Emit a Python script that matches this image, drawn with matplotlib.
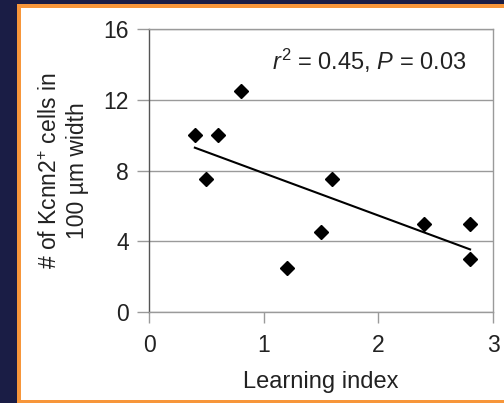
import numpy as np
import matplotlib
matplotlib.use('Agg')
import matplotlib.pyplot as plt
from matplotlib.patches import Rectangle

plt.rcParams['font.family'] = ['Liberation Sans', 'DejaVu Sans']
plt.rcParams['mathtext.fontset'] = 'custom'
plt.rcParams['mathtext.rm'] = 'Liberation Sans'
plt.rcParams['mathtext.it'] = 'Liberation Sans:italic'

# data
learning_index = [0.4, 0.5, 0.6, 0.8, 1.2, 1.5, 1.6, 2.4, 2.8, 2.8]
kcnn2_cells = [10, 7.5, 10, 12.5, 2.5, 4.5, 7.5, 5, 5, 3]
x_ticks = [0, 1, 2, 3]
y_ticks = [0, 4, 8, 12, 16]

navy = '#1a1d45'
orange = '#f7963a'
grey = '#9a9a9a'
txt = '#222222'

fig = plt.figure(figsize=(5.04, 4.03), dpi=100, facecolor=navy)
W, H = 504, 403
# orange frame and white panel, kept behind the axes
fig.patches.append(Rectangle((17 / W, 0), 1, 1 - 4 / H, transform=fig.transFigure,
                             facecolor=orange, edgecolor='none', zorder=-2))
fig.patches.append(Rectangle((21 / W, 3 / H), 1, 1 - 11 / H, transform=fig.transFigure,
                             facecolor='white', edgecolor='none', zorder=-1))

ax = fig.add_axes([149 / W, 1 - 312 / H, 344 / W, 283 / H])
ax.set_facecolor('none')

ax.set_xlim(0, 3)
ax.set_ylim(0, 16)
ax.set_xticks(x_ticks)
ax.set_yticks(y_ticks)

ax.yaxis.grid(True, color=grey, lw=1.0)
for s in ['top', 'right', 'bottom']:
    ax.spines[s].set_color(grey)
    ax.spines[s].set_linewidth(1.0)
ax.spines['left'].set_color('#555555')
ax.spines['left'].set_linewidth(1.0)
ax.tick_params(axis='y', length=8.5, width=1.0, color=grey, pad=6, labelsize=16.5, labelcolor=txt)
ax.tick_params(axis='x', length=8, width=1.0, color=grey, pad=8, labelsize=16.5, labelcolor=txt)

ax.plot(learning_index, kcnn2_cells, linestyle='none', marker='D', markersize=7.5,
        color='black', zorder=5, clip_on=False)

# least squares line
slope, icpt = np.polyfit(learning_index, kcnn2_cells, 1)
xs = np.array([min(learning_index), max(learning_index)])
ax.plot(xs, slope * xs + icpt, color='black', lw=1.5, zorder=4)

ax.text(2.77, 14.2, r'$r^2$ = 0.45, $P$ = 0.03', ha='right', va='center',
        fontsize=17, color=txt)

ax.set_xlabel('Learning index', fontsize=17, color=txt, labelpad=10)
ax.set_ylabel('# of Kcnn2$^{+}$ cells in\n100 µm width', fontsize=16.5, color=txt,
              labelpad=10, linespacing=1.25)

fig.savefig('out.png', dpi=100, facecolor=navy)
